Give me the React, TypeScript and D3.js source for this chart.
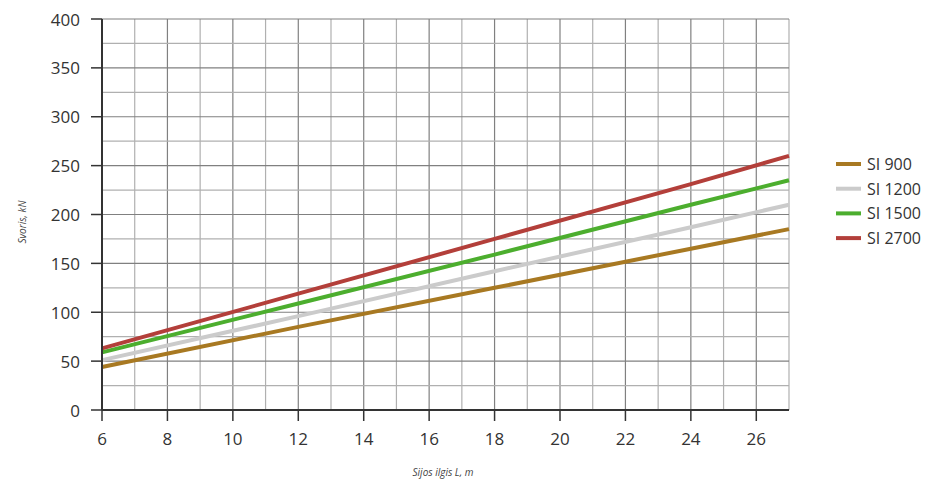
import React from "react";
import * as d3 from "d3";

const xValues = [6, 12, 18, 24, 27];
const si900 = [44, 85, 125, 165, 185];
const si1200 = [51, 96, 142, 187, 210];
const si1500 = [59, 109, 159, 210, 235];
const si2700 = [63, 119, 175, 231, 260];
const seriesNames = ["SI 900", "SI 1200", "SI 1500", "SI 2700"];
const seriesColors = ["#a87922", "#cbcbcb", "#4cae2e", "#b33f3a"];
const xTicks = [6, 8, 10, 12, 14, 16, 18, 20, 22, 24, 26];
const yTicks = [0, 50, 100, 150, 200, 250, 300, 350, 400];

export default function App() {
  const W = 948, H = 488;
  const x = d3.scaleLinear().domain([6, 27]).range([102, 789]);
  const y = d3.scaleLinear().domain([0, 400]).range([410, 19]);
  const all = [si900, si1200, si1500, si2700];
  const line = d3
    .line<[number, number]>()
    .x((d) => x(d[0]))
    .y((d) => y(d[1]));
  const font = "'Open Sans', 'DejaVu Sans', sans-serif";
  const vGrid = d3.range(7, 28);
  const hGrid = d3.range(25, 401, 25);
  return (
    <svg width={W} height={H} style={{ position: "absolute", left: 0, top: 0 }}>
      <rect width={W} height={H} fill="#fff" />
      {vGrid.map((v) => (
        <line
          key={"v" + v}
          x1={x(v)}
          x2={x(v)}
          y1={y(400)}
          y2={y(0)}
          stroke={v % 2 === 0 ? "#808080" : "#b0b0b0"}
          strokeWidth={1.2}
        />
      ))}
      {hGrid.map((h) => (
        <line
          key={"h" + h}
          x1={x(6)}
          x2={x(27)}
          y1={y(h)}
          y2={y(h)}
          stroke={h % 50 === 0 ? "#808080" : "#b0b0b0"}
          strokeWidth={1.2}
        />
      ))}
      {all.map((s, i) => (
        <path
          key={seriesNames[i]}
          d={line(xValues.map((xv, j) => [xv, s[j]] as [number, number])) || ""}
          fill="none"
          stroke={seriesColors[i]}
          strokeWidth={4}
        />
      ))}
      <line x1={x(6)} x2={x(6)} y1={y(400)} y2={y(0)} stroke="#333" strokeWidth={2} />
      <line x1={x(6)} x2={x(27)} y1={y(0)} y2={y(0)} stroke="#333" strokeWidth={2} />
      {yTicks.map((t) => (
        <g key={"yt" + t}>
          <line x1={x(6) - 11} x2={x(6)} y1={y(t)} y2={y(t)} stroke="#333" strokeWidth={1.5} />
          <text
            x={80}
            y={y(t)}
            textAnchor="end"
            dominantBaseline="central"
            fontFamily={font}
            fontSize={17}
            fill="#333"
          >
            {t}
          </text>
        </g>
      ))}
      {xTicks.map((t) => (
        <g key={"xt" + t}>
          <line x1={x(t)} x2={x(t)} y1={y(0)} y2={y(0) + 11} stroke="#333" strokeWidth={1.5} />
          <text
            x={x(t)}
            y={445}
            textAnchor="middle"
            fontFamily={font}
            fontSize={17}
            fill="#333"
          >
            {t}
          </text>
        </g>
      ))}
      <text
        x={443}
        y={476}
        textAnchor="middle"
        fontFamily={font}
        fontSize={10}
        fontStyle="italic"
        fill="#444"
      >
        Sijos ilgis L, m
      </text>
      <text
        transform="translate(26,222) rotate(-90)"
        textAnchor="middle"
        fontFamily={font}
        fontSize={10}
        fontStyle="italic"
        fill="#444"
      >
        Svoris, kN
      </text>
      {seriesNames.map((n, i) => (
        <g key={"lg" + n} transform={`translate(836,${164 + i * 24.7})`}>
          <line x1={0} x2={25} y1={0} y2={0} stroke={seriesColors[i]} strokeWidth={4} />
          <text
            x={31}
            y={0}
            dominantBaseline="central"
            fontFamily={font}
            fontSize={16}
            fill="#333"
          >
            {n}
          </text>
        </g>
      ))}
    </svg>
  );
}
